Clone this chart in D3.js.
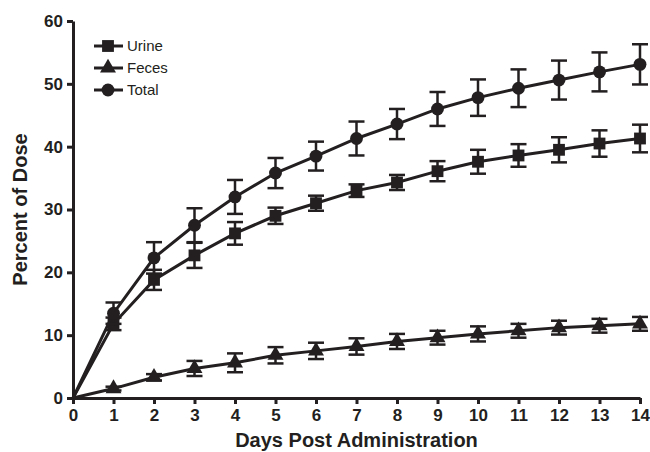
<!DOCTYPE html>
<html>
<head>
<meta charset="utf-8">
<script src="https://cdn.jsdelivr.net/npm/d3@7"></script>
<style>
  body { margin: 0; background: #fff; }
  text { font-family: "Liberation Sans", Arial, sans-serif; fill: #231f20; }
</style>
</head>
<body>
<div id="chart"></div>
<script>
var days = [0, 1, 2, 3, 4, 5, 6, 7, 8, 9, 10, 11, 12, 13, 14];
var urine = [0, 11.8, 18.8, 22.7, 26.2, 29.0, 31.0, 33.0, 34.3, 36.1, 37.6, 38.6, 39.5, 40.5, 41.3];
var urineErr = [0, 1.0, 1.6, 2.0, 1.8, 1.3, 1.2, 1.0, 1.2, 1.6, 1.9, 1.8, 2.0, 2.1, 2.2];
var feces = [0, 1.5, 3.3, 4.7, 5.6, 6.8, 7.5, 8.2, 9.0, 9.6, 10.2, 10.7, 11.2, 11.5, 11.8];
var fecesErr = [0, 0.3, 0.5, 1.2, 1.5, 1.3, 1.3, 1.3, 1.2, 1.1, 1.2, 1.1, 1.1, 1.1, 1.1];
var total = [0, 13.5, 22.3, 27.5, 32.0, 35.8, 38.5, 41.3, 43.6, 46.0, 47.8, 49.3, 50.6, 51.9, 53.1];
var totalErr = [0, 1.7, 2.5, 2.7, 2.7, 2.4, 2.3, 2.7, 2.4, 2.7, 2.9, 3.0, 3.1, 3.1, 3.2];
var yTicks = [0, 10, 20, 30, 40, 50, 60];

var ink = "#231f20";
var width = 650, height = 452;
var margin = {top: 21, right: 10, bottom: 54, left: 73};

var svg = d3.select("#chart").append("svg")
    .attr("width", width)
    .attr("height", height);

var x = d3.scaleLinear().domain([0, 14]).range([margin.left, 640]);
var y = d3.scaleLinear().domain([0, 60]).range([398, margin.top]);

// axes
var xAxis = svg.append("g")
    .attr("transform", "translate(0," + y(0) + ")")
    .call(d3.axisBottom(x).tickValues(days).tickFormat(d3.format("d")).tickSize(6).tickSizeOuter(0));
var yAxis = svg.append("g")
    .attr("transform", "translate(" + x(0) + ",0)")
    .call(d3.axisLeft(y).tickValues(yTicks).tickSize(6).tickSizeOuter(0));

[xAxis, yAxis].forEach(function(a) {
  a.select(".domain").attr("stroke", ink).attr("stroke-width", 3);
  a.selectAll(".tick line").attr("stroke", ink).attr("stroke-width", 3);
  a.selectAll(".tick text").attr("font-size", 17).attr("font-weight", "bold")
    .attr("font-family", "Liberation Sans, Arial, sans-serif").attr("fill", ink);
});
xAxis.selectAll(".tick text").attr("y", 9).attr("dy", "0.85em");
yAxis.selectAll(".tick text").attr("x", -10);

svg.append("text")
    .attr("x", (x(0) + x(14)) / 2).attr("y", 447)
    .attr("text-anchor", "middle")
    .attr("font-size", 20).attr("font-weight", "bold")
    .text("Days Post Administration");

svg.append("text")
    .attr("transform", "translate(27," + y(30) + ")rotate(-90)")
    .attr("text-anchor", "middle")
    .attr("font-size", 20).attr("font-weight", "bold")
    .text("Percent of Dose");

var series = [
  {name: "Urine", values: urine, err: urineErr, shape: d3.symbolSquare, size: 140},
  {name: "Feces", values: feces, err: fecesErr, shape: d3.symbolTriangle, size: 110},
  {name: "Total", values: total, err: totalErr, shape: d3.symbolCircle, size: 130}
];

var line = d3.line()
    .x(function(d, i) { return x(days[i]); })
    .y(function(d) { return y(d); });

series.forEach(function(s) {
  var g = svg.append("g");
  // error bars
  days.forEach(function(dv, i) {
    if (i === 0) return;
    var cx = x(dv), hi = y(s.values[i] + s.err[i]), lo = y(s.values[i] - s.err[i]);
    g.append("line").attr("x1", cx).attr("x2", cx).attr("y1", hi).attr("y2", lo)
      .attr("stroke", ink).attr("stroke-width", 2.5);
    [hi, lo].forEach(function(yy) {
      g.append("line").attr("x1", cx - 8).attr("x2", cx + 8).attr("y1", yy).attr("y2", yy)
        .attr("stroke", ink).attr("stroke-width", 2.5);
    });
  });
  g.append("path").datum(s.values)
    .attr("fill", "none").attr("stroke", ink).attr("stroke-width", 3)
    .attr("d", line);
  g.selectAll(".pt").data(s.values.slice(1)).enter().append("path")
    .attr("transform", function(d, i) { return "translate(" + x(days[i + 1]) + "," + y(d) + ")"; })
    .attr("d", d3.symbol().type(s.shape).size(s.size))
    .attr("fill", ink);
});

// legend
var legend = svg.append("g").attr("transform", "translate(94,46)");
series.forEach(function(s, i) {
  var row = legend.append("g").attr("transform", "translate(0," + i * 22 + ")");
  row.append("line").attr("x1", 0).attr("x2", 29).attr("stroke", ink).attr("stroke-width", 3);
  row.append("path").attr("transform", "translate(14,0)")
    .attr("d", d3.symbol().type(s.shape).size(s.size)).attr("fill", ink);
  row.append("text").attr("x", 33).attr("dy", "0.35em").attr("font-size", 15).text(s.name);
});
</script>
</body>
</html>
